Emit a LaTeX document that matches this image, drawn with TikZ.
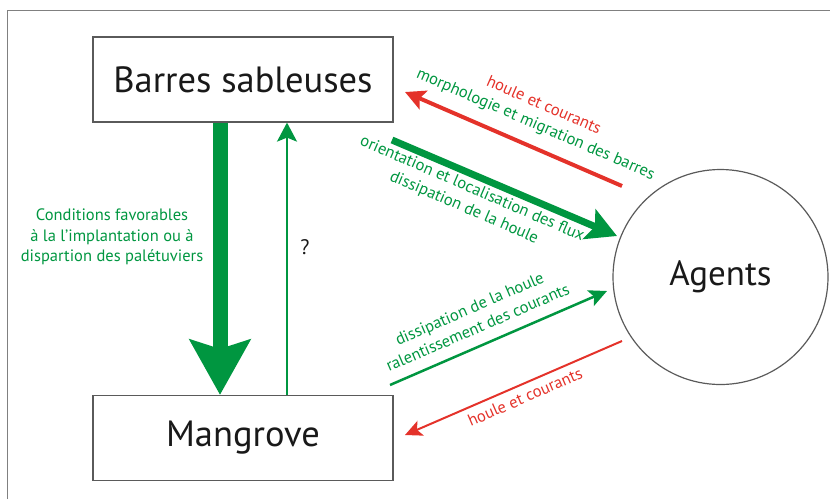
\documentclass[tikz,border=0pt]{standalone}
\usepackage{fontspec}
\setmainfont{PT Sans}
\usetikzlibrary{arrows.meta}
\definecolor{vert}{RGB}{0,150,64}
\definecolor{rouge}{RGB}{228,50,42}
\definecolor{cadre}{RGB}{90,90,90}
\begin{document}
\begin{tikzpicture}[x=1pt,y=-1pt,
  box/.style={draw=cadre, line width=1.2pt, minimum width=300pt, minimum height=85pt, inner sep=0pt, font=\fontsize{36.5}{42}\selectfont, text=black!90},
  lbl/.style={font=\fontsize{16.5}{20.5}\selectfont, align=center, inner sep=0pt},
]
\useasboundingbox (0,0) rectangle (830,499);
\draw[black!50, line width=1pt] (7,499) -- (7,10) -- (830,10);

\node[box] (barres) at (243,79.5) {Barres sableuses};
\node[box] (mangrove) at (243,438) {Mangrove};
\node[draw=cadre, line width=1.2pt, circle, minimum size=215pt, inner sep=0pt, font=\fontsize{35}{40}\selectfont, text=black!90] (agents) at (720.5,277) {Agents};

\coordinate (xd) at (220,0);
\coordinate (xu) at (287,0);
\draw[vert, line width=15pt, -{Stealth[length=55pt,width=60pt,inset=9pt]}] (barres.south -| xd) -- (mangrove.north -| xd);
\draw[vert, line width=2pt, -{Stealth[length=19pt,width=20pt,inset=4pt]}] (mangrove.north -| xu) -- (barres.south -| xu);

\coordinate (r1s) at (622,186);
\coordinate (r1e) at (405,92);
\draw[rouge, line width=4pt, -{Stealth[length=20pt,width=20pt,inset=4pt]}] (r1s) -- (r1e);

\coordinate (g1s) at (392,140);
\coordinate (g1e) at (617,236);
\draw[vert, line width=7pt, -{Stealth[length=30pt,width=32pt,inset=6pt]}] (g1s) -- (g1e);

\coordinate (g2s) at (390,385);
\coordinate (g2e) at (607,291);
\draw[vert, line width=2.5pt, -{Stealth[length=18pt,width=17pt,inset=4pt]}] (g2s) -- (g2e);

\coordinate (r2s) at (622,341);
\coordinate (r2e) at (405,435);
\draw[rouge, line width=2pt, -{Stealth[length=17pt,width=16pt,inset=4pt]}] (r2s) -- (r2e);

\node[lbl, rotate=-23.4] (l1) at (539.5,115.5) {\textcolor{rouge}{houle et courants}\\\textcolor{vert}{morphologie et migration des barres}};
\node[lbl, vert, rotate=-23.4] (l2) at (468,198.5) {orientation et localisation des flux\\dissipation de la houle};
\node[lbl, vert, rotate=23.4] (l3) at (473.5,318) {dissipation de la houle\\ralentissement des courants};
\node[lbl, rouge, rotate=23.4] (l4) at (525,397) {houle et courants};
\node[lbl, vert] (l5) at (112,237) {Conditions favorables\\à la l'implantation ou à\\dispartion des palétuviers};
\node[font=\fontsize{21}{24}\selectfont, inner sep=0pt, text=black!90] (q) at (305,247) {?};
\end{tikzpicture}
\end{document}
